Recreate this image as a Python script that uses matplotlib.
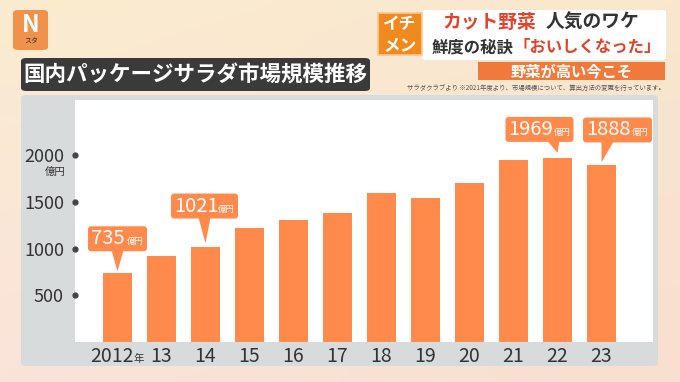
import numpy as np
import matplotlib
matplotlib.use("Agg")
import matplotlib.pyplot as plt
from matplotlib.patches import FancyBboxPatch, Polygon, Rectangle
from matplotlib import transforms as mtransforms

plt.rcParams['font.family'] = ['Noto Sans CJK JP', 'DejaVu Sans']

# ---- data ----
years = ['2012', '13', '14', '15', '16', '17', '18', '19', '20', '21', '22', '23']
values = [735, 915, 1021, 1220, 1300, 1380, 1595, 1545, 1700, 1950, 1969, 1888]
ytick_values = [500, 1000, 1500, 2000]
ytick_labels = ['500', '1000', '1500', '2000']
callout_years = ['2012', '14', '22', '23']
title = '国内パッケージサラダ市場規模推移'
note = 'サラダクラブより ※2021年度より、市場規模について、算出方法の変更を行っています。'

W, H = 680, 382
DPI = 100
fig = plt.figure(figsize=(W / DPI, H / DPI), dpi=DPI)

def fx(px):
    return px / W

def fy(py):
    return 1 - py / H

# ---- background gradient ----
bg = fig.add_axes([0, 0, 1, 1], zorder=-10)
corners = np.array([[[251, 236, 208], [249, 231, 206]],
                    [[250, 227, 218], [248, 223, 207]]]) / 255.0
gy, gx = np.mgrid[0:1:60j, 0:1:100j]
img = (corners[0, 0] * ((1 - gx) * (1 - gy))[..., None] +
       corners[0, 1] * (gx * (1 - gy))[..., None] +
       corners[1, 0] * ((1 - gx) * gy)[..., None] +
       corners[1, 1] * (gx * gy)[..., None])
bg.imshow(img, extent=[0, 1, 0, 1], aspect='auto', interpolation='bicubic')
bg.set_xlim(0, 1)
bg.set_ylim(0, 1)
bg.axis('off')

# ---- gray panel ----
fig.patches.append(FancyBboxPatch((fx(21), fy(366)), fx(658) - fx(21), fy(95) - fy(366),
                                  boxstyle='round,pad=0,rounding_size=0.008',
                                  transform=fig.transFigure, facecolor='#D8DBDC',
                                  edgecolor='none', zorder=-5))

# ---- chart axes (white panel) ----
left, right, top, bottom = 75, 653, 100, 342
ax = fig.add_axes([fx(left), fy(bottom), fx(right) - fx(left), fy(top) - fy(bottom)])
ax.set_facecolor('white')
for s in ax.spines.values():
    s.set_visible(False)

x = np.arange(len(years))
bar_color = '#FF8A4C'
ax.bar(x, values, width=0.68, color=bar_color, zorder=2)

px_per_x = 44.0
ax.set_xlim(-(117.5 - left) / px_per_x, (right - 117.5) / px_per_x)
px_per_unit = (bottom - 155) / 2000.0
ax.set_ylim(0, (bottom - top) / px_per_unit)

# y ticks
ax.set_yticks(ytick_values)
ax.set_yticklabels(ytick_labels, fontsize=13, color='#333333')
ax.tick_params(axis='y', length=0, pad=8)
ax.tick_params(axis='x', length=0)
ax.set_xticks([])
ybl = mtransforms.blended_transform_factory(ax.transAxes, ax.transData)
ax.plot([0] * len(ytick_values), ytick_values, 'o', color='#444444', markersize=3.5,
        transform=ybl, clip_on=False, zorder=5)
ax.annotate('億円', xy=(0, 2000), xycoords=ybl, xytext=(-20, -17),
            textcoords='offset pixels', ha='center', va='center',
            fontsize=7.5, color='#333333', annotation_clip=False)

# x labels
xbl = mtransforms.blended_transform_factory(ax.transData, ax.transAxes)
for i, lab in enumerate(years):
    if i == 0:
        ax.annotate(lab, xy=(i, 0), xycoords=xbl, xytext=(16, -15),
                    textcoords='offset pixels', ha='right', va='center',
                    fontsize=14, color='#333333', annotation_clip=False)
        ax.annotate('年', xy=(i, 0), xycoords=xbl, xytext=(16, -17),
                    textcoords='offset pixels', ha='left', va='center',
                    fontsize=7.5, color='#333333', annotation_clip=False)
    else:
        ax.annotate(lab, xy=(i, 0), xycoords=xbl, xytext=(0, -15),
                    textcoords='offset pixels', ha='center', va='center',
                    fontsize=14, color='#333333', annotation_clip=False)

# callouts: (box center dx px, bar-top-to-tip gap, tip-to-box gap, triangle base dx, box width)
callout_style = {
    '2012': (0, 2, 20, 0, 59),
    '14': (-1, 3, 25, -1, 67),
    '22': (-18, 5, 11, -4, 68),
    '23': (16, 3, 20, 6, 69),
}
for lab in callout_years:
    i = years.index(lab)
    v = values[i]
    dx, g1, g2, tdx, bw = callout_style[lab]
    bh = 25
    tip_y = g1
    bbot = g1 + g2
    anchor = mtransforms.ScaledTranslation(i, v, ax.transData)
    tri = Polygon([[tdx - 6, bbot + 1], [tdx + 6, bbot + 1], [0, tip_y]], closed=True,
                  facecolor=bar_color, edgecolor='none', transform=anchor,
                  zorder=6, clip_on=False)
    ax.add_artist(tri)
    box = FancyBboxPatch((dx - bw / 2, bbot), bw, bh,
                         boxstyle='round,pad=0,rounding_size=3',
                         facecolor=bar_color, edgecolor='none', zorder=6, clip_on=False,
                         transform=anchor)
    ax.add_artist(box)
    ax.annotate(str(v), xy=(i, v), xycoords='data', xytext=(dx - bw / 2 + 3, bbot + bh / 2),
                textcoords='offset pixels', ha='left', va='center', fontsize=14.5,
                color='white', zorder=7, annotation_clip=False)
    ax.annotate('億円', xy=(i, v), xycoords='data', xytext=(dx + bw / 2 - 3, bbot + bh / 2 - 3),
                textcoords='offset pixels', ha='right', va='center', fontsize=6,
                color='white', zorder=7, annotation_clip=False)

# ---- title box ----
fig.patches.append(FancyBboxPatch((fx(21), fy(91)), fx(370) - fx(21), fy(58) - fy(91),
                                  boxstyle='round,pad=0,rounding_size=0.008',
                                  transform=fig.transFigure, facecolor='#3A3A3A',
                                  edgecolor='none', zorder=1))
fig.text(fx(195), fy(75), title, ha='center', va='center', fontsize=15.5,
         color='white', fontweight='bold')

# ---- logo ----
fig.patches.append(FancyBboxPatch((fx(13), fy(50)), fx(48) - fx(13), fy(10) - fy(50),
                                  boxstyle='round,pad=0,rounding_size=0.008',
                                  transform=fig.transFigure, facecolor='#F0924C',
                                  edgecolor='none', zorder=1))
fig.text(fx(31), fy(25), 'N', ha='center', va='center', fontsize=17, color='white',
         fontweight='bold', style='italic')
fig.text(fx(24), fy(42), 'スタ', ha='left', va='center', fontsize=5, color='#333333')

# ---- header ----
fig.patches.append(FancyBboxPatch((fx(422), fy(60)), fx(666) - fx(422), fy(10) - fy(60),
                                  boxstyle='round,pad=0,rounding_size=0.006',
                                  transform=fig.transFigure, facecolor='white',
                                  edgecolor='none', zorder=1))
fig.patches.append(Rectangle((fx(378), fy(55)), fx(422) - fx(378), fy(13) - fy(55),
                             transform=fig.transFigure, facecolor='#F08A1E',
                             edgecolor='#F9C89A', linewidth=1.2, zorder=2))
fig.text(fx(400), fy(24), 'イチ', ha='center', va='center', fontsize=12, color='white',
         fontweight='bold')
fig.text(fx(400), fy(45), 'メン', ha='center', va='center', fontsize=12, color='white',
         fontweight='bold')
red = '#E0442A'
dark = '#333333'
fig.text(fx(442), fy(22), 'カット野菜', ha='left', va='center', fontsize=13.5,
         color=red, fontweight='bold')
fig.text(fx(639), fy(22), '人気のワケ', ha='right', va='center', fontsize=13.5,
         color=dark, fontweight='bold')
fig.text(fx(432), fy(47), '鮮度の秘訣', ha='left', va='center', fontsize=11.8,
         color=dark, fontweight='bold')
fig.text(fx(432 + 5 * 16.4), fy(47), '「おいしくなった」', ha='left', va='center',
         fontsize=11.8, color=red, fontweight='bold')
fig.patches.append(Rectangle((fx(478), fy(80)), fx(665) - fx(478), fy(62) - fy(80),
                             transform=fig.transFigure, facecolor='#F07A3C',
                             edgecolor='none', zorder=1))
fig.text(fx(572), fy(71), '野菜が高い今こそ', ha='center', va='center', fontsize=11,
         color='white', fontweight='bold')
fig.text(fx(665), fy(88), note, ha='right', va='center', fontsize=4.6, color='#555555')

fig.savefig('out.png', dpi=DPI)
